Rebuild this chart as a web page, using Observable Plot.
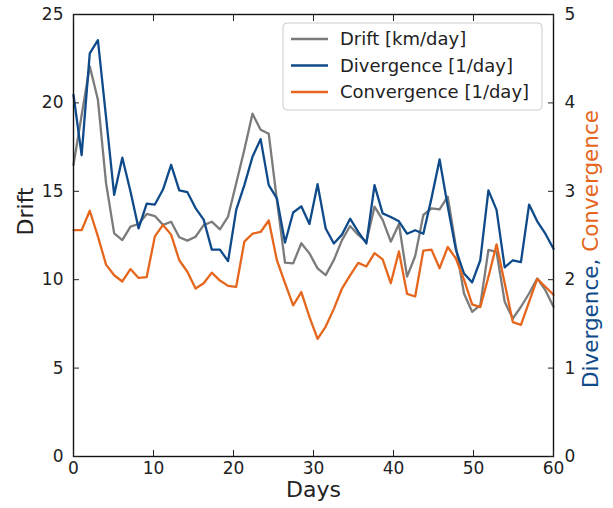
<!DOCTYPE html>
<html><head><meta charset="utf-8">
<script src="https://cdn.jsdelivr.net/npm/d3@7"></script>
<script src="https://cdn.jsdelivr.net/npm/@observablehq/plot@0.6"></script>
<style>
body{margin:0;background:#fff;font-family:"DejaVu Sans",sans-serif}
#chart{position:relative;width:613px;height:508px}
</style>
</head><body><div id="chart"></div>
<script>
// Daily samples spanning days 0..60
const drift = [16.5, 19.3, 22.07, 20.18, 15.46, 12.62, 12.24, 13.0, 13.15, 13.72,
  13.6, 13.1, 13.28, 12.4, 12.21, 12.43, 13.09, 13.28, 12.85, 13.57,
  15.46, 17.35, 19.39, 18.48, 18.25, 14.5, 10.96, 10.92, 12.06, 11.49,
  10.64, 10.26, 11.11, 12.24, 13.04, 12.53, 12.15, 14.13, 13.38, 12.15,
  13.15, 10.17, 11.34, 13.66, 14.04, 13.98, 14.7, 11.87, 9.22, 8.18,
  8.56, 11.68, 11.58, 8.75, 7.8, 8.47, 9.22, 10.07, 9.41, 8.47];
const divergence = [4.09, 3.41, 4.56, 4.71, 3.84, 2.96, 3.38, 3.0, 2.58, 2.86,
  2.85, 3.02, 3.30, 3.01, 2.99, 2.81, 2.68, 2.34, 2.34, 2.21,
  2.79, 3.07, 3.39, 3.59, 3.07, 2.92, 2.42, 2.76, 2.83, 2.63,
  3.08, 2.58, 2.41, 2.51, 2.69, 2.54, 2.41, 3.07, 2.75, 2.71,
  2.66, 2.52, 2.56, 2.52, 2.92, 3.36, 2.83, 2.34, 2.07, 1.97,
  2.22, 3.01, 2.79, 2.14, 2.22, 2.20, 2.85, 2.66, 2.52, 2.35];
const convergence = [2.56, 2.56, 2.78, 2.49, 2.17, 2.05, 1.98, 2.12, 2.02, 2.03,
  2.49, 2.62, 2.51, 2.22, 2.09, 1.90, 1.96, 2.08, 1.99, 1.93,
  1.92, 2.43, 2.52, 2.54, 2.67, 2.22, 1.96, 1.71, 1.86, 1.58,
  1.33, 1.47, 1.67, 1.90, 2.05, 2.19, 2.15, 2.30, 2.23, 1.96,
  2.32, 1.84, 1.81, 2.33, 2.34, 2.13, 2.37, 2.24, 2.00, 1.72,
  1.69, 2.03, 2.40, 1.96, 1.52, 1.49, 1.75, 2.01, 1.92, 1.83];

const seriesNames = ["Drift [km/day]", "Divergence [1/day]", "Convergence [1/day]"];
const seriesColors = ["#7b7b7b", "#0f4a8a", "#e5661c"];
const xTicks = [0, 10, 20, 30, 40, 50, 60];
const leftTicks = [0, 5, 10, 15, 20, 25];
const dayRange = [0, 60];
const rightFactor = 5; // right axis (0..5) mapped onto left axis (0..25)

const n = drift.length;
const dayOf = i => dayRange[0] + i * (dayRange[1] - dayRange[0]) / (n - 1);
const rows = [];
drift.forEach((v, i) => rows.push({day: dayOf(i), v, s: seriesNames[0]}));
divergence.forEach((v, i) => rows.push({day: dayOf(i), v: v * rightFactor, s: seriesNames[1]}));
convergence.forEach((v, i) => rows.push({day: dayOf(i), v: v * rightFactor, s: seriesNames[2]}));

const chart = Plot.plot({
  width: 613, height: 508,
  marginLeft: 73, marginRight: 60, marginTop: 14, marginBottom: 52,
  style: {fontFamily: "DejaVu Sans", fontSize: "17px", color: "#222", background: "white"},
  x: {domain: dayRange},
  y: {domain: [0, 25]},
  color: {domain: seriesNames, range: seriesColors},
  marks: [
    Plot.line(rows, {x: "day", y: "v", z: "s", stroke: "s", strokeWidth: 2.3}),
    Plot.frame({stroke: "#111", strokeWidth: 1.4}),
    Plot.axisX(xTicks, {anchor: "bottom", tickSize: -6, tickPadding: 11, label: null}),
    Plot.axisX(xTicks, {anchor: "top", tickSize: -6, tickFormat: () => "", label: null}),
    Plot.axisY(leftTicks, {anchor: "left", tickSize: -6, tickPadding: 16, label: null}),
    Plot.axisY(leftTicks, {anchor: "right", tickSize: -6, tickPadding: 17, tickFormat: d => d / rightFactor, label: null}),
    Plot.text(["Days"], {frameAnchor: "bottom", dy: 40, fontSize: 22, fill: "#222"}),
    Plot.text(["Drift"], {frameAnchor: "left", dx: -48, rotate: -90, fontSize: 22, fill: "#222"})
  ]
});
document.getElementById("chart").appendChild(chart);

const svg = d3.select(chart);
// right-hand two-colour axis label
const rl = svg.append("text")
  .attr("transform", "translate(598,388) rotate(-90)")
  .attr("text-anchor", "start")
  .attr("font-size", 21.5)
  .attr("font-family", "DejaVu Sans");
rl.append("tspan").attr("fill", seriesColors[1]).text("Divergence, ");
rl.append("tspan").attr("fill", seriesColors[2]).text("Convergence");

// legend
const lg = svg.append("g");
lg.append("rect").attr("x", 283).attr("y", 23).attr("width", 259).attr("height", 87)
  .attr("rx", 4).attr("fill", "white").attr("fill-opacity", 0.9)
  .attr("stroke", "#cccccc").attr("stroke-width", 1);
seriesNames.forEach((name, i) => {
  const y = 39 + i * 26.5;
  lg.append("line").attr("x1", 291).attr("x2", 328).attr("y1", y).attr("y2", y)
    .attr("stroke", seriesColors[i]).attr("stroke-width", 2.3);
  lg.append("text").attr("x", 340).attr("y", y).attr("dy", "0.35em")
    .attr("text-anchor", "start")
    .attr("font-size", 18).attr("font-family", "DejaVu Sans").attr("fill", "#222").text(name);
});
</script>
</body></html>
